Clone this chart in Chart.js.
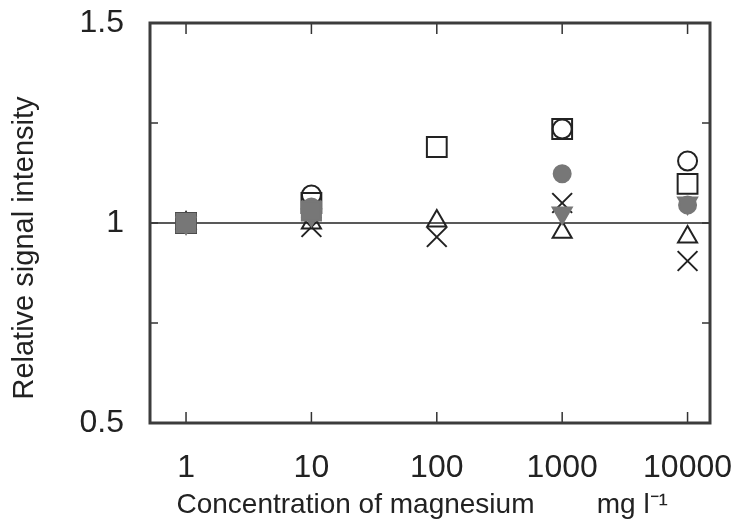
<!DOCTYPE html>
<html>
<head>
<meta charset="utf-8">
<script src="https://cdn.jsdelivr.net/npm/chart.js@4/dist/chart.umd.min.js"></script>
<style>
  html, body { margin: 0; background: #fff; }
  #wrap { width: 735px; height: 528px; }
</style>
</head>
<body>
<div id="wrap"><canvas id="chart"></canvas></div>
<script>
// data
const concentrations = [1, 10, 100, 1000, 10000];
const openCircle   = [1.00, 1.07, null, 1.235, 1.155];
const openSquare   = [1.00, 1.05, 1.19, 1.235, 1.098];
const filledCircle = [1.00, 1.04, null, 1.123, 1.045];
const filledTri    = [1.00, 1.02, null, 1.025, 1.05];
const crossMark    = [1.00, 0.99, 0.965, 1.05, 0.905];
const openTri      = [1.00, 1.00, 1.005, 0.977, 0.965];
const filledSquare = [1.00, 1.03, null, null, null];
const yTickLabels  = ['0.5', '1', '1.5'];
const xTickLabels  = ['1', '10', '100', '1000', '10000'];
const refLevel = 1;
const yTitle = 'Relative signal intensity';
// trailing spaces nudge the centred title a bit left, like the print
const xTitle = 'Concentration of magnesium        mg l\u207B\u00B9  ';

const xMin = 0.516, xMax = 15100;
const GRAY = '#777777';
const INK = '#222222';
const FONT = 'Liberation Sans';

function pts(arr) {
  return concentrations
    .map((c, i) => ({ x: c, y: arr[i] }))
    .filter(p => p.y !== null);
}

function marker(data, style, opts) {
  return Object.assign({
    type: 'scatter',
    data: pts(data),
    pointStyle: style,
    pointBorderColor: INK,
    pointBackgroundColor: 'rgba(0,0,0,0)',
    pointBorderWidth: 2,
    pointRadius: 10
  }, opts || {});
}

// frame, inward tick marks and the rotated y title
const framePlugin = {
  id: 'frame',
  afterDraw(chart) {
    const { ctx, chartArea: a, scales: { x, y } } = chart;
    ctx.save();
    ctx.strokeStyle = '#333';
    ctx.lineWidth = 1.5;
    ctx.beginPath();
    concentrations.forEach(c => {
      const px = x.getPixelForValue(c);
      ctx.moveTo(px, a.bottom); ctx.lineTo(px, a.bottom - 11);
      ctx.moveTo(px, a.top); ctx.lineTo(px, a.top + 11);
    });
    [0.75, 1, 1.25].forEach(v => {
      const py = y.getPixelForValue(v);
      ctx.moveTo(a.left, py); ctx.lineTo(a.left + 8, py);
      ctx.moveTo(a.right, py); ctx.lineTo(a.right - 8, py);
    });
    ctx.stroke();
    ctx.lineWidth = 3;
    ctx.strokeStyle = '#3c3c3c';
    ctx.strokeRect(a.left, a.top, a.width, a.height);

    // y title, centred a little below the axis middle as in the print
    ctx.translate(33, 248);
    ctx.rotate(-Math.PI / 2);
    ctx.fillStyle = INK;
    ctx.font = '29px "' + FONT + '"';
    ctx.textAlign = 'center';
    ctx.textBaseline = 'alphabetic';
    ctx.fillText(yTitle, 0, 0);
    ctx.restore();
  }
};

new Chart(document.getElementById('chart'), {
  data: {
    datasets: [
      marker(filledSquare, 'rect', { pointBackgroundColor: GRAY, pointBorderColor: GRAY, pointRadius: 13.5 }),
      marker(filledCircle, 'circle', { pointBackgroundColor: GRAY, pointBorderColor: GRAY, pointRadius: 8.5 }),
      marker(filledTri, 'triangle', { pointBackgroundColor: GRAY, pointBorderColor: GRAY, pointRotation: 180, pointRadius: 11 }),
      marker(openCircle, 'circle', { pointRadius: 9.5 }),
      marker(openSquare, 'rect', { pointRadius: 14 }),
      marker(crossMark, 'crossRot', { pointRadius: 14 }),
      marker(openTri, 'triangle', { pointRadius: 11 }),
      {
        type: 'line',
        data: [{ x: xMin, y: refLevel }, { x: xMax, y: refLevel }],
        borderColor: INK,
        borderWidth: 1.5,
        pointRadius: 0
      }
    ]
  },
  options: {
    responsive: true,
    maintainAspectRatio: false,
    animation: false,
    layout: { padding: { top: 23, right: 25, left: 0, bottom: 0 } },
    plugins: {
      legend: { display: false },
      tooltip: { enabled: false }
    },
    scales: {
      x: {
        type: 'logarithmic',
        min: xMin,
        max: xMax,
        grid: { display: false },
        border: { display: false },
        afterBuildTicks: (scale) => {
          scale.ticks = concentrations.map(v => ({ value: v }));
        },
        afterFit: (scale) => {
          scale.height = 105;
          scale.paddingLeft = 0;
          scale.paddingRight = 0;
        },
        ticks: {
          autoSkip: false,
          maxRotation: 0,
          padding: 18,
          color: INK,
          font: { family: FONT, size: 32 },
          callback: (v) => xTickLabels[concentrations.indexOf(v)] || ''
        },
        title: {
          display: true,
          text: xTitle,
          color: INK,
          font: { family: FONT, size: 28 },
          padding: { bottom: 6 }
        }
      },
      y: {
        min: 0.5,
        max: 1.5,
        grid: { display: false },
        border: { display: false },
        afterFit: (scale) => {
          scale.width = 150;
          scale.paddingTop = 0;
          scale.paddingBottom = 0;
        },
        ticks: {
          stepSize: 0.25,
          padding: 18,
          color: INK,
          font: { family: FONT, size: 32 },
          callback: (v) => yTickLabels.find(t => Number(t) === v) || ''
        }
      }
    }
  },
  plugins: [framePlugin]
});
</script>
</body>
</html>
